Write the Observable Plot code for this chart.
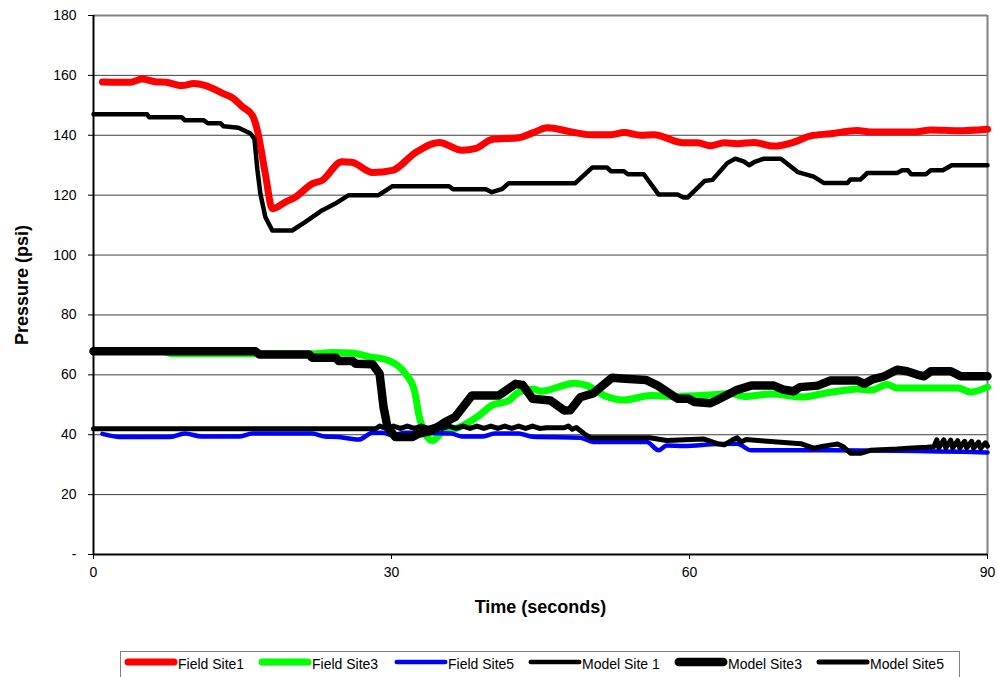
<!DOCTYPE html>
<html><head><meta charset="utf-8">
<script src="https://cdn.jsdelivr.net/npm/d3@7"></script>
<script src="https://cdn.jsdelivr.net/npm/@observablehq/plot@0.6"></script>
<style>
body{margin:0;background:#fff;font-family:"Liberation Sans",Arial,sans-serif;}
#wrap{position:relative;width:998px;height:677px;overflow:hidden;}
#legend{position:absolute;left:120px;top:651px;width:840px;height:40px;border:1px solid #808080;box-sizing:border-box;background:#fff;}
.item{position:absolute;top:1px;height:22px;display:flex;align-items:center;font-size:14px;color:#000;white-space:nowrap;}
.item svg{margin-top:-5px;}
</style></head><body><div id="wrap"><div id="chart"></div><div id="legend"></div></div>
<script>
const seriesNames = ["Field Site1","Field Site3","Field Site5","Model Site 1","Model Site3","Model Site5"];
const xTicks = [0, 30, 60, 90];
const yTicks = [0, 20, 40, 60, 80, 100, 120, 140, 160, 180];
const gridTicks = [20, 40, 60, 80, 100, 120, 140, 160];

const fieldSite1 = [[0.9,157.8],[3.7,157.7],[4.9,158.8],[6.2,157.9],[7.3,157.7],[8.9,156.6],[10.1,157.3],[11.3,156.6],[13.0,154],[14.0,152.5],[15.0,149.5],[16.0,146.6],[16.5,141.6],[17.3,127.1],[18.0,115.5],[19.3,117.7],[20.3,119.3],[22.0,123.8],[23.0,124.9],[25.0,131.2],[26.0,131],[28.1,127.6],[30.1,128.3],[32.4,134.2],[34.8,137.6],[37.1,135],[38.5,135.6],[40.1,138.6],[42.8,139.2],[44.2,140.8],[45.7,142.5],[48,141.2],[50.0,140.2],[52.1,140.2],[53.4,140.9],[55.1,140],[56.4,140.2],[59.4,137.5],[60.8,137.5],[62.1,136.5],[63.5,137.5],[64.8,137.2],[66.5,137.6],[68.5,136.4],[70.5,137.7],[72.2,139.8],[74.2,140.5],[76.9,141.6],[78.2,141.1],[82.6,141.1],[84.3,141.8],[87,141.5],[90,142]];

const fieldSite3 = [[0,68],[7,67.8],[8,67],[22,67],[24,67.5],[26,67.3],[27.7,66.1],[29.7,64.8],[31.4,60.4],[32.3,54.8],[32.8,45.9],[33.4,40.3],[34.1,38.1],[35.1,40.8],[36.8,42.5],[38.8,46.4],[40.1,49.8],[41.8,51.4],[42.8,54.2],[44.3,55.3],[45,54.5],[48.4,57.2],[49.7,56.4],[51.4,53.1],[53.4,51.6],[56.1,53.1],[58.4,52.8],[62.8,53.4],[64.1,53.8],[65.5,52.8],[68.2,53.6],[71.5,52.6],[73.2,53.6],[74.9,54.5],[76.9,55.3],[78.3,54.9],[79.9,56.8],[80.9,55.6],[87,55.6],[88.3,54.3],[90,55.9]];

const fieldSite5 = [[0.9,40.3],[2.9,39.2],[7.6,39.2],[9.2,40.4],[10.9,39.4],[14.6,39.4],[16,40.4],[22,40.4],[23.3,39.4],[24.7,39.2],[26.7,38.4],[28.1,40.7],[29.1,40.7],[30.1,39.8],[31.4,40.7],[36,40.4],[37.1,39.4],[39.1,39.4],[40.4,40.4],[42.8,40.4],[44.2,39.3],[49,39],[50.3,37.6],[55.7,37.6],[56.9,34.8],[57.7,36.4],[59.4,36.2],[62.8,36.9],[64.8,37],[66.2,34.8],[74.2,34.8],[90,34.1]];

const modelSite1 = [[0,147],[5.4,147],[5.6,146],[8.9,146],[9.2,145],[11.1,145],[11.5,144],[12.8,144],[13.1,143],[14.6,142.5],[15.8,140.6],[16.2,138.8],[16.5,128.5],[16.8,120.5],[17.3,112.7],[18.0,108.2],[20,108.2],[21.3,111],[23,114.9],[24.3,117.1],[25.7,120],[28.7,120],[30.1,123],[35.8,123],[36.2,122],[39.5,122],[40.1,121],[41.1,122],[41.8,124],[48.5,124],[50.2,129.2],[51.7,129.2],[52.1,128],[53.4,128],[53.8,127],[55.4,127],[56.9,120.2],[58.8,120.2],[59.4,119.2],[59.8,119.2],[61.5,124.7],[62.3,125.1],[63.8,130.7],[64.6,132.2],[65.5,131.2],[66,130],[66.5,131],[67.5,132.2],[69.2,132.2],[70.9,127.7],[72.5,126.2],[73.5,124.1],[75.9,124.1],[76.2,125.2],[77.2,125.2],[77.9,127.4],[80.9,127.4],[81.4,128.3],[82,128.3],[82.3,127],[83.8,127],[84.3,128.3],[85.5,128.3],[86.4,130],[90,130]];

const modelSite3 = [[0,67.9],[16.3,67.9],[16.7,66.8],[21.7,66.8],[22,65.7],[24.4,65.7],[24.7,64.6],[26.1,64.6],[26.4,63.7],[28.1,63.5],[28.8,60.4],[29.2,49.2],[29.6,42.5],[30.4,39.2],[32.1,39.2],[32.7,40.3],[34.1,41.4],[35.4,44.2],[36.4,45.9],[38.1,53.1],[40.8,53.1],[42.5,57],[43.2,56.6],[44.2,52],[46,51.4],[47.4,48.1],[48,48.2],[49,52.5],[50.3,53.8],[52.2,59],[53.5,58.7],[55.6,58.3],[56.8,56.4],[58.8,52],[59.9,52],[60.5,50.9],[62.1,50.5],[62.8,51.6],[64.8,55],[66.2,56.4],[68.5,56.4],[69.5,55],[70.5,54.5],[71.1,55.9],[72.9,56.4],[74.2,58.1],[76.9,58.1],[77.6,57],[78.5,58.6],[79.6,59.5],[80.9,61.7],[81.9,61.2],[82.9,60.1],[83.6,59.5],[84.3,61.2],[86.3,61.2],[87.3,59.5],[90,59.5]];

const modelSite5 = [[0,42],[28.4,42],[28.8,42.9],[29.5,42.1],[30.2,42.9],[30.9,42.1],[31.6,42.9],[32.3,42.1],[33,42.9],[33.7,42.1],[34.4,42.9],[35.1,42.1],[35.8,42.9],[36.5,42.1],[37.2,42.9],[37.9,42.1],[38.6,42.9],[39.3,42.1],[40,42.9],[40.7,42.1],[41.4,42.9],[42.1,42.1],[42.8,42.9],[43.5,42.1],[44.2,42.9],[44.9,42.1],[45.6,42.3],[47.4,42.3],[47.8,42.9],[48.2,41.8],[48.6,42.4],[49.4,40.3],[50,39],[56,39],[57.7,38.1],[61.4,38.6],[62.8,37],[63.5,36.6],[64.3,38.2],[64.8,39],[65.2,37.6],[65.7,38.4],[67.5,37.9],[71.2,37],[72.5,35.5],[73.5,36.2],[74.9,36.9],[75.5,36],[76.2,33.8],[77.2,33.8],[78.2,34.8],[80.9,35.2],[82,35.5],[83.9,35.8],[84.6,36],[84.9,38.3],[85.1,35.6],[85.6,38.3],[85.8,35.6],[86.3,38.2],[86.5,35.6],[87,38],[87.2,35.6],[87.7,37.8],[87.9,35.6],[88.4,37.8],[88.6,35.5],[89.1,37.5],[89.3,35.5],[89.8,37.3],[90,36.2]];

const seriesData = [fieldSite1, fieldSite3, fieldSite5, modelSite1, modelSite3, modelSite5];
const seriesColors = ["#ff0000", "#00ff00", "#0000ff", "#000000", "#000000", "#000000"];
const seriesWidths = [7, 7, 4.5, 4.5, 8.5, 5];
const seriesCurves = ["monotone-x", "monotone-x", "monotone-x", "linear", "linear", "linear"];

const lineMarks = seriesData.map((d, i) => Plot.line(d, {
  x: p => p[0], y: p => p[1],
  stroke: seriesColors[i], strokeWidth: seriesWidths[i],
  curve: seriesCurves[i], strokeLinejoin: "round", strokeLinecap: "round"
}));

const chart = Plot.plot({
  width: 998, height: 645,
  marginLeft: 93, marginRight: 11, marginTop: 15, marginBottom: 91,
  style: {fontFamily: "'Liberation Sans', Arial, sans-serif", fontSize: "14px", color: "#000", background: "#fff", overflow: "visible"},
  x: {domain: [0, 90]},
  y: {domain: [0, 180]},
  marks: [
    Plot.gridY(gridTicks, {stroke: "#404040", strokeOpacity: 1, strokeWidth: 1}),
    Plot.ruleY([180], {stroke: "#808080", strokeWidth: 2}),
    Plot.ruleX([90], {stroke: "#808080", strokeWidth: 2}),
    Plot.axisY(yTicks, {tickSize: 5, tickPadding: 12, tickFormat: d => d === 0 ? "-" : String(d), label: null, fontSize: 14}),
    Plot.axisX(xTicks, {tickSize: 5, tickPadding: 8, label: null, fontSize: 14}),
    ...lineMarks,
    Plot.ruleX([0], {stroke: "#000", strokeWidth: 2}),
    Plot.ruleY([0], {stroke: "#000", strokeWidth: 2}),
    Plot.text(["Pressure (psi)"], {frameAnchor: "left", dx: -71, rotate: -90, fontWeight: "bold", fontSize: 18, textAnchor: "middle"}),
    Plot.text(["Time (seconds)"], {frameAnchor: "bottom", dy: 53, fontWeight: "bold", fontSize: 18, textAnchor: "middle", lineAnchor: "middle"})
  ]
});
document.getElementById("chart").appendChild(chart);

const legendLefts = [3, 137, 273, 407, 553, 695];
const legend = document.getElementById("legend");
seriesNames.forEach((name, i) => {
  const it = document.createElement("div");
  it.className = "item";
  it.style.left = legendLefts[i] + "px";
  const w = 54, sw = seriesWidths[i];
  it.innerHTML = `<svg width="${w}" height="14"><line x1="${sw/2+0.5}" y1="7" x2="${w - sw/2 - 0.5}" y2="7" stroke="${seriesColors[i]}" stroke-width="${sw}" stroke-linecap="round"/></svg><span>${name}</span>`;
  legend.appendChild(it);
});
</script>
</body></html>
